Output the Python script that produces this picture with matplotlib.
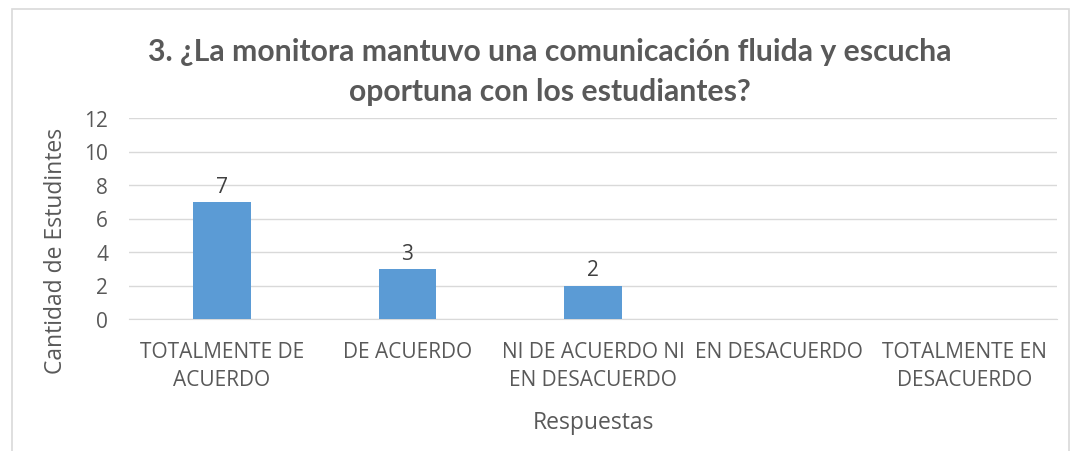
import matplotlib
matplotlib.use("Agg")
import matplotlib.pyplot as plt
from matplotlib.patches import Rectangle

categories = ["TOTALMENTE DE\nACUERDO", "DE ACUERDO", "NI DE ACUERDO NI\nEN DESACUERDO",
              "EN DESACUERDO", "TOTALMENTE EN\nDESACUERDO"]
values = [7, 3, 2, 0, 0]
yticks = [0, 2, 4, 6, 8, 10, 12]
title = "3. ¿La monitora mantuvo una comunicación fluida y escucha\noportuna con los estudiantes?"

plt.rcParams['font.family'] = ['Open Sans', 'DejaVu Sans']
gray = "#595959"

fig = plt.figure(figsize=(10.77, 4.52), dpi=100)
fig.patches.append(Rectangle((12/1077, -0.1), (1069-12)/1077, 1.1 - 10/452,
                             transform=fig.transFigure, fill=False,
                             edgecolor="#d9d9d9", linewidth=1.2))
ax = fig.add_axes([129/1077, 1-320/452, 928/1077, 201/452])
x = list(range(len(categories)))
ax.bar(x, values, width=0.31, color="#5B9BD5", zorder=3)
for xi, v in zip(x, values):
    if v > 0:
        ax.text(xi, v + 0.3, str(v), ha="center", va="bottom", fontsize=15, color="#404040")
ax.set_xlim(-0.5, len(categories) - 0.5)
ax.set_ylim(0, 12)
ax.set_yticks(yticks)
ax.set_yticklabels([str(t) for t in yticks], fontsize=15, color=gray)
ax.set_xticks(x)
ax.set_xticklabels(categories, fontsize=15, color=gray, linespacing=1.45)
ax.tick_params(axis="both", length=0)
ax.tick_params(axis="x", pad=16)
ax.tick_params(axis="y", pad=15)
ax.grid(axis="y", color="#d9d9d9", linewidth=1, zorder=0)
for s in ["top", "right", "left"]:
    ax.spines[s].set_visible(False)
ax.spines["bottom"].set_color("#d9d9d9")
ax.set_ylabel("Cantidad de Estudintes", fontsize=16.5, color=gray)
ax.yaxis.set_label_coords(-0.066, 0.343)
ax.set_xlabel("Respuestas", fontsize=16.5, color=gray, labelpad=14)
fig.text(550/1077, 1-72/452, title, ha="center", va="center", fontsize=21.7, fontweight="bold",
         color=gray, linespacing=1.55, family=['Lato', 'DejaVu Sans'])
fig.savefig("out.png", dpi=100, facecolor="white")
